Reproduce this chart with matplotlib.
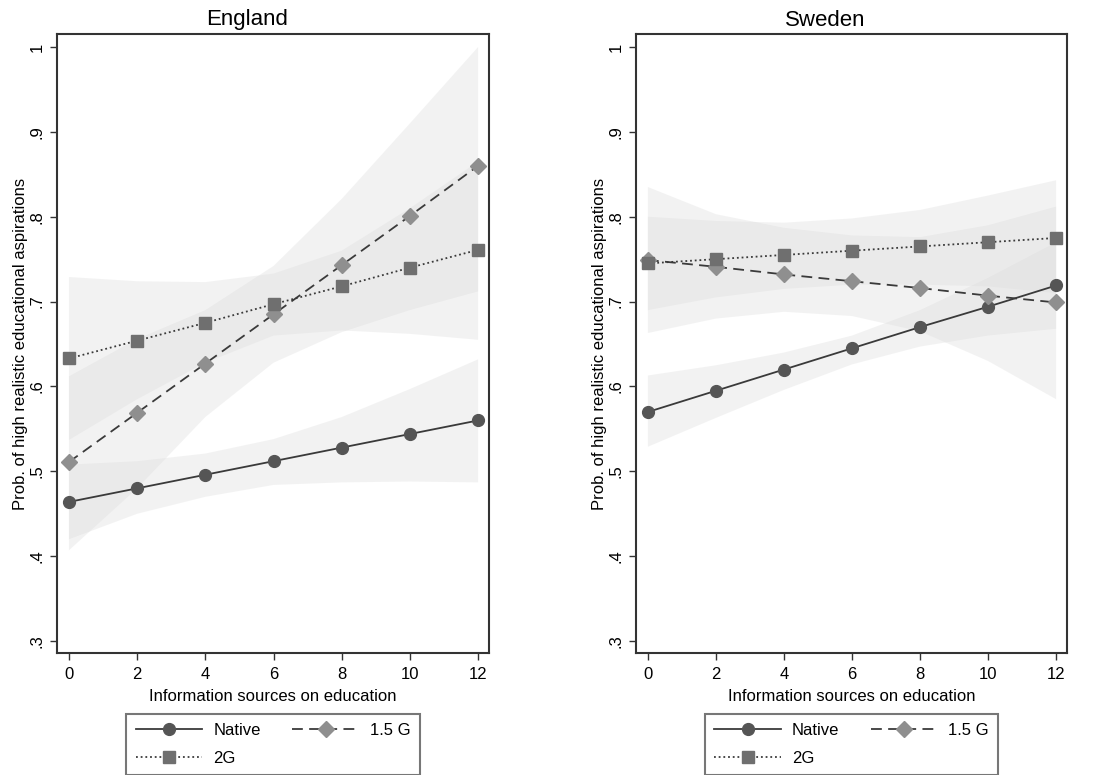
import matplotlib as mpl
import matplotlib.pyplot as plt
from matplotlib.lines import Line2D

mpl.use("Agg")

plt.rcParams["font.family"] = ["Liberation Sans", "DejaVu Sans"]

IMAGE_DPI = 100.0
WIDTH, HEIGHT = 1094, 775

x_vals = [0, 2, 4, 6, 8, 10, 12]
y_ticks = [0.3, 0.4, 0.5, 0.6, 0.7, 0.8, 0.9, 1.0]
y_tick_labels = [".3", ".4", ".5", ".6", ".7", ".8", ".9", "1"]

# England
eng_native = [0.464, 0.480, 0.496, 0.512, 0.528, 0.544, 0.560]
eng_native_lo = [0.420, 0.450, 0.470, 0.484, 0.487, 0.488, 0.487]
eng_native_hi = [0.508, 0.512, 0.521, 0.538, 0.564, 0.597, 0.632]
eng_15g = [0.511, 0.569, 0.627, 0.685, 0.743, 0.801, 0.860]
eng_15g_lo = [0.407, 0.480, 0.564, 0.628, 0.664, 0.690, 0.712]
eng_15g_hi = [0.612, 0.656, 0.690, 0.742, 0.821, 0.910, 1.000]
eng_2g = [0.633, 0.654, 0.675, 0.697, 0.718, 0.740, 0.761]
eng_2g_lo = [0.537, 0.585, 0.628, 0.660, 0.666, 0.662, 0.655]
eng_2g_hi = [0.729, 0.724, 0.723, 0.733, 0.760, 0.810, 0.865]

# Sweden
swe_native = [0.570, 0.595, 0.620, 0.645, 0.670, 0.694, 0.719]
swe_native_lo = [0.529, 0.563, 0.596, 0.626, 0.647, 0.660, 0.668]
swe_native_hi = [0.613, 0.625, 0.640, 0.660, 0.690, 0.728, 0.770]
swe_15g = [0.749, 0.741, 0.732, 0.724, 0.716, 0.707, 0.699]
swe_15g_lo = [0.663, 0.680, 0.688, 0.683, 0.665, 0.630, 0.585]
swe_15g_hi = [0.835, 0.803, 0.787, 0.778, 0.776, 0.790, 0.812]
swe_2g = [0.745, 0.750, 0.755, 0.760, 0.765, 0.770, 0.775]
swe_2g_lo = [0.690, 0.705, 0.715, 0.720, 0.720, 0.718, 0.710]
swe_2g_hi = [0.800, 0.795, 0.793, 0.798, 0.808, 0.825, 0.843]

series_labels = ["Native", "1.5 G", "2G"]

LINE_COLOR = "#3a3a3a"
FRAME_COLOR = "#333333"
STYLES = [
    dict(linestyle="-", marker="o", markersize=8.5, markerfacecolor="#555555", markeredgecolor="#555555"),
    dict(linestyle=(0, (6, 3.5)), marker="D", markersize=8, markerfacecolor="#8f8f8f", markeredgecolor="#8f8f8f"),
    dict(linestyle=(0, (1, 1.6)), marker="s", markersize=8.5, markerfacecolor="#6f6f6f", markeredgecolor="#6f6f6f"),
]


def plot_panel(ax, title, title_x, series):
    for lo, hi in [(s[1], s[2]) for s in series]:
        ax.fill_between(x_vals, lo, hi, facecolor="#dcdcdc", alpha=0.35, linewidth=0, zorder=1)

    for (y, _, _), style in zip(series, STYLES):
        ax.plot(x_vals, y, color=LINE_COLOR, linewidth=1.3, zorder=3, **style)

    ax.set_xlim(-0.35, 12.32)
    ax.set_ylim(0.286, 1.0153)
    ax.set_xticks(x_vals)
    ax.set_yticks(y_ticks)
    ax.set_yticklabels(y_tick_labels, rotation=90, va="center")
    ax.tick_params(axis="both", labelsize=12, length=5, width=1, color=FRAME_COLOR)
    ax.tick_params(axis="x", pad=5)
    ax.tick_params(axis="y", pad=4)
    for spine in ax.spines.values():
        spine.set_color(FRAME_COLOR)
        spine.set_linewidth(1.5)

    ax.set_xlabel("Information sources on education", fontsize=12, labelpad=5)
    ax.set_ylabel("Prob. of high realistic educational aspirations", fontsize=12, labelpad=1)

    ax.figure.text(title_x, 1 - 20 / HEIGHT, title, fontsize=16, ha="center", va="center")

    # legend fills column by column: Native / 2G in the first column, 1.5 G in the second
    handles = [Line2D([], [], color=LINE_COLOR, linewidth=1.3, **style) for style in STYLES]
    order = [0, 2, 1]
    leg = ax.legend(
        [handles[i] for i in order],
        [series_labels[i] for i in order],
        ncol=2,
        loc="upper center",
        bbox_to_anchor=(0.5, -0.0985),
        fontsize=12,
        frameon=True,
        fancybox=False,
        edgecolor="#555555",
        handlelength=4.0,
        handletextpad=0.65,
        columnspacing=1.9,
        labelspacing=0.75,
        borderpad=0.55,
        borderaxespad=0,
    )
    leg.get_frame().set_linewidth(1.5)


fig = plt.figure(facecolor="white")
fig.set_size_inches(WIDTH / IMAGE_DPI, HEIGHT / IMAGE_DPI)

bottom = 1 - 653 / HEIGHT
height = (653 - 34) / HEIGHT

ax_eng = fig.add_axes([57 / WIDTH, bottom, (489 - 57) / WIDTH, height])
ax_swe = fig.add_axes([636 / WIDTH, bottom, (1067 - 636) / WIDTH, height])

plot_panel(
    ax_eng,
    "England",
    247 / WIDTH,
    [(eng_native, eng_native_lo, eng_native_hi), (eng_15g, eng_15g_lo, eng_15g_hi), (eng_2g, eng_2g_lo, eng_2g_hi)],
)
plot_panel(
    ax_swe,
    "Sweden",
    825 / WIDTH,
    [(swe_native, swe_native_lo, swe_native_hi), (swe_15g, swe_15g_lo, swe_15g_hi), (swe_2g, swe_2g_lo, swe_2g_hi)],
)

fig.savefig("out.png", dpi=IMAGE_DPI, facecolor="white")
